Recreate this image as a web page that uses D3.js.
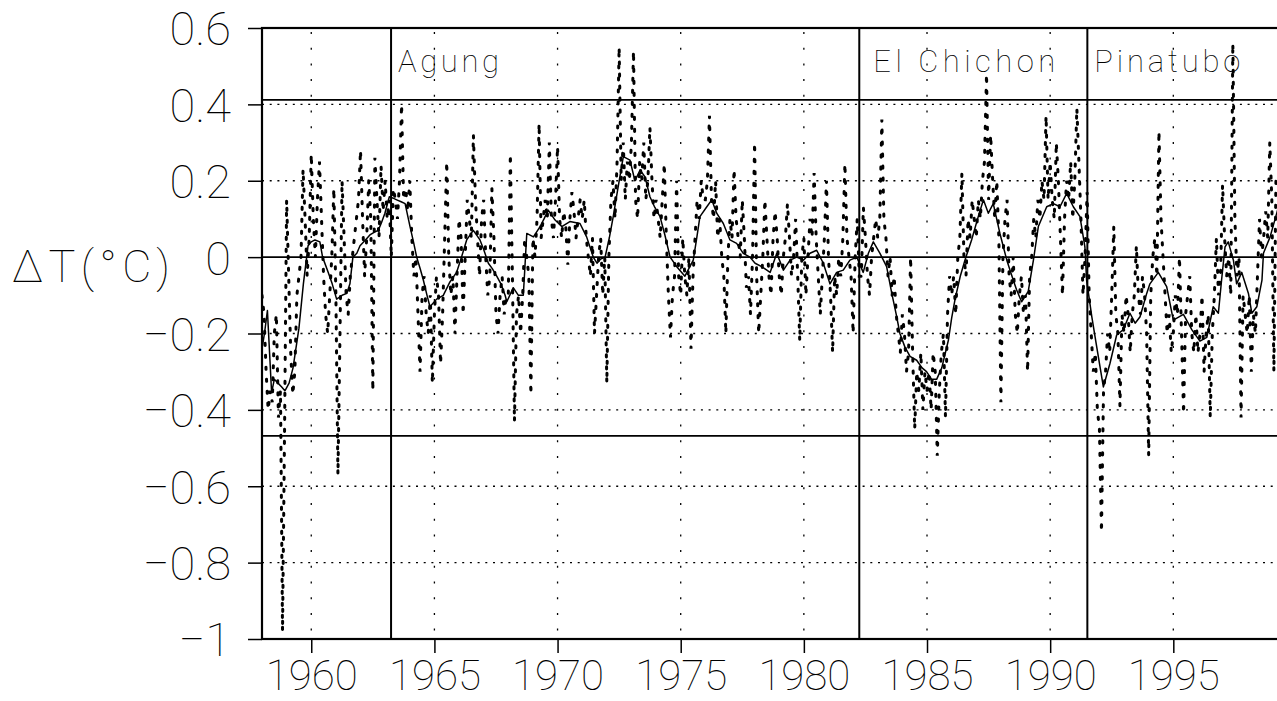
<!DOCTYPE html>
<html><head><meta charset="utf-8">
<script src="https://cdn.jsdelivr.net/npm/d3@7"></script>
<style>
html,body{margin:0;padding:0;background:#fff;}
svg text{font-family:"Roboto","DejaVu Sans",sans-serif;font-weight:100;fill:#000;}
</style></head>
<body>
<svg id="chart" width="1277" height="701"></svg>
<script>
// ---------- data ----------
const monthlyStart = 1958;
const monthlyAnomaly = [
-0.10,-0.15,-0.30,-0.40,-0.35,-0.38,-0.20,-0.15,-0.42,-0.35,-0.98,-0.45,
 0.15,-0.05,-0.25,-0.36,-0.30,-0.10,-0.05, 0.00, 0.23, 0.10,-0.05, 0.05,
 0.27, 0.10, 0.00, 0.15, 0.25, 0.10,-0.05,-0.15,-0.20,-0.10, 0.00, 0.18,
-0.10,-0.57,-0.20, 0.20, 0.05,-0.10,-0.15,-0.05, 0.00, 0.05, 0.10, 0.15,
 0.28, 0.10,-0.05, 0.05, 0.20, 0.10,-0.35, 0.26, 0.15, 0.05, 0.24, 0.12,
 0.20, 0.10, 0.15, 0.00, 0.18, 0.15, 0.10, 0.20, 0.40, 0.15, 0.18, 0.12,
 0.20, 0.05,-0.05, 0.00,-0.15,-0.30,-0.10,-0.05,-0.15,-0.20,-0.10,-0.33,
-0.15,-0.05,-0.10,-0.28,-0.15, 0.05, 0.25, 0.00,-0.10,-0.05,-0.20,-0.05,
 0.10, 0.05,-0.15, 0.00, 0.15, 0.10, 0.05, 0.32, 0.15, 0.05,-0.05, 0.10,
 0.15, 0.00,-0.10,-0.05, 0.18, 0.05,-0.15,-0.20,-0.10,-0.05,-0.15,-0.10,
-0.10, 0.27,-0.05,-0.43,-0.15,-0.10,-0.20,-0.10, 0.05, 0.00,-0.05,-0.36,
 0.05, 0.00, 0.10, 0.35, 0.05, 0.10, 0.15, 0.10, 0.30, 0.10, 0.05, 0.15,
 0.29, 0.10, 0.05, 0.12, 0.08,-0.02, 0.10, 0.17, 0.12, 0.05, 0.10, 0.15,
 0.10, 0.15, 0.05, 0.00,-0.05, 0.05,-0.20,-0.10, 0.00, 0.05,-0.10, 0.00,
-0.33, 0.00, 0.15, 0.20, 0.10, 0.25, 0.55, 0.20, 0.30, 0.15, 0.25, 0.20,
 0.30, 0.54, 0.15, 0.10, 0.25, 0.20, 0.30, 0.15, 0.20, 0.34, 0.20, 0.10,
 0.15, 0.10, 0.05, 0.15, 0.245,0.05,-0.10,-0.21,-0.10,-0.05, 0.20,-0.05,
-0.10, 0.05,-0.05,-0.10, 0.00,-0.24,-0.05, 0.05, 0.15, 0.10, 0.20, 0.15,
 0.15, 0.20, 0.37, 0.15, 0.10, 0.20, 0.05, 0.10, 0.00,-0.05,-0.20, 0.00,
 0.10, 0.05, 0.23, 0.10, 0.05, 0.00, 0.15, 0.05,-0.08,-0.05,-0.15, 0.00,
 0.30,-0.05,-0.20,-0.10, 0.00, 0.15, 0.05,-0.05,-0.10, 0.05, 0.12, 0.05,
-0.05,-0.10, 0.00, 0.05, 0.14, 0.05,-0.05, 0.00, 0.10,-0.05,-0.22, 0.00,
 0.05,-0.10, 0.00, 0.10, 0.05, 0.22, 0.05,-0.05,-0.15,-0.05, 0.05, 0.20,
 0.00,-0.10,-0.25,-0.05,-0.10, 0.00,-0.05, 0.05, 0.245,0.05, 0.00,-0.05,
-0.20, 0.00, 0.10,-0.05,-0.05, 0.13, 0.05,-0.05,-0.10, 0.00, 0.05, 0.10,
 0.05, 0.10, 0.36, 0.10, 0.05,-0.05, 0.00,-0.10,-0.05,-0.15,-0.20,-0.25,
-0.15,-0.20,-0.30,-0.25, 0.00,-0.25,-0.45,-0.30,-0.35,-0.25,-0.40,-0.30,
-0.35,-0.30,-0.40,-0.25,-0.30,-0.52,-0.35,-0.25,-0.20,-0.42,-0.15,-0.05,
-0.10,-0.05,-0.15, 0.00, 0.05, 0.22, 0.00,-0.05, 0.10, 0.05, 0.15, 0.10,
 0.05, 0.15, 0.10, 0.20, 0.25, 0.48, 0.15, 0.32, 0.20, 0.10, 0.20, 0.05,
-0.38, 0.00, 0.10, 0.15,-0.05,-0.10, 0.00,-0.15,-0.20,-0.10,-0.05,-0.15,
-0.10,-0.30,-0.05, 0.00, 0.10, 0.05, 0.15, 0.10, 0.20, 0.15, 0.37, 0.15,
 0.25, 0.15, 0.10, 0.30, 0.20, 0.05,-0.10, 0.10, 0.20, 0.15, 0.25, 0.10,
 0.20, 0.39, 0.25, 0.10,-0.10, 0.00, 0.17,-0.10,-0.20,-0.30,-0.25,-0.40,
-0.45,-0.72,-0.35,-0.30,-0.20,-0.25,-0.10, 0.08,-0.15,-0.20,-0.39,-0.15,
-0.20,-0.10,-0.15,-0.25,-0.15,-0.10, 0.03,-0.10,-0.15,-0.05,-0.10,-0.20,
-0.52,-0.10, 0.00, 0.05,-0.05, 0.33, 0.10, 0.00,-0.10,-0.20,-0.15,-0.25,
-0.20,-0.10,-0.15, 0.00,-0.20,-0.41,-0.15,-0.10,-0.05,-0.20,-0.25,-0.15,
-0.25,-0.20,-0.10,-0.30,-0.20,-0.15,-0.42,-0.20,-0.10, 0.05,-0.10,-0.05,
 0.19, 0.05,-0.05, 0.00,-0.10, 0.56, 0.10,-0.05, 0.00,-0.42,-0.10,-0.15,
-0.20,-0.10,-0.30,-0.15,-0.20,-0.05, 0.10, 0.00, 0.05, 0.12, 0.05, 0.30,
 0.15,-0.30, 0.20
];
const smoothYears = [1958.00,1958.10,1958.22,1958.39,1958.50,1958.65,1958.80,1958.93,1959.10,1959.26,1959.50,1959.68,1959.87,1960.00,1960.15,1960.35,1960.46,1960.69,1960.85,1961.03,1961.25,1961.44,1961.57,1961.69,1961.85,1961.98,1962.20,1962.38,1962.55,1962.72,1962.85,1962.99,1963.17,1963.30,1963.47,1963.65,1963.81,1964.01,1964.15,1964.28,1964.42,1964.55,1964.70,1964.82,1965.09,1965.36,1965.63,1965.90,1966.10,1966.31,1966.58,1966.85,1967.00,1967.19,1967.35,1967.53,1967.70,1967.87,1967.94,1968.20,1968.41,1968.61,1968.68,1968.75,1969.02,1969.29,1969.45,1969.62,1969.90,1970.17,1970.50,1970.91,1971.18,1971.45,1971.60,1971.75,1971.93,1972.10,1972.26,1972.45,1972.67,1972.94,1973.14,1973.35,1973.55,1973.75,1973.95,1974.16,1974.35,1974.57,1974.84,1975.17,1975.51,1975.65,1975.78,1976.06,1976.26,1976.46,1976.73,1977.00,1977.27,1977.54,1977.81,1978.02,1978.29,1978.63,1978.90,1979.17,1979.44,1979.71,1979.98,1980.25,1980.52,1980.79,1981.06,1981.33,1981.60,1981.87,1982.15,1982.41,1982.62,1982.82,1983.09,1983.36,1983.57,1983.75,1983.90,1984.10,1984.31,1984.58,1984.80,1984.98,1985.19,1985.39,1985.60,1985.87,1986.00,1986.14,1986.35,1986.54,1986.81,1987.08,1987.29,1987.49,1987.69,1987.96,1988.24,1988.50,1988.64,1988.84,1989.11,1989.32,1989.52,1989.86,1990.13,1990.40,1990.67,1990.94,1991.21,1991.41,1991.48,1991.69,1991.89,1992.16,1992.43,1992.70,1992.97,1993.24,1993.45,1993.65,1993.92,1994.05,1994.39,1994.73,1995.00,1995.41,1995.75,1996.08,1996.36,1996.62,1996.83,1996.96,1997.10,1997.23,1997.44,1997.57,1997.78,1998.05,1998.19,1998.39,1998.60,1998.66,1998.93,1999.20,1999.30];
const smoothValues = [-0.24,-0.20,-0.14,-0.355,-0.32,-0.33,-0.34,-0.35,-0.33,-0.29,-0.186,-0.07,0.03,0.04,0.045,0.04,0.0,-0.04,-0.07,-0.11,-0.10,-0.095,-0.07,0.0,0.01,0.03,0.045,0.058,0.065,0.07,0.09,0.115,0.158,0.155,0.15,0.145,0.14,0.08,0.04,0.0,-0.03,-0.06,-0.10,-0.13,-0.11,-0.10,-0.065,-0.04,0.0,0.045,0.07,0.045,0.02,-0.016,-0.03,-0.05,-0.07,-0.10,-0.117,-0.08,-0.10,-0.10,-0.02,0.062,0.053,0.08,0.10,0.123,0.097,0.08,0.093,0.088,0.053,0.0,-0.016,-0.005,0.0,0.05,0.106,0.18,0.263,0.254,0.20,0.228,0.21,0.158,0.13,0.106,0.06,0.0,-0.025,-0.05,-0.008,0.05,0.106,0.132,0.15,0.115,0.088,0.045,0.036,0.01,0.0,-0.016,-0.025,-0.04,0.01,-0.034,-0.008,0.0,-0.008,0.01,0.018,-0.016,-0.07,-0.04,-0.034,-0.008,0.0,-0.04,0.01,0.04,0.01,-0.025,-0.095,-0.15,-0.20,-0.235,-0.26,-0.27,-0.29,-0.30,-0.32,-0.32,-0.29,-0.217,-0.16,-0.11,-0.05,-0.008,0.045,0.106,0.15,0.115,0.14,0.062,-0.008,-0.06,-0.086,-0.117,-0.09,-0.008,0.08,0.132,0.14,0.132,0.167,0.132,0.106,0.027,-0.06,-0.156,-0.235,-0.34,-0.278,-0.204,-0.19,-0.147,-0.173,-0.156,-0.095,-0.07,-0.04,-0.077,-0.165,-0.15,-0.19,-0.22,-0.21,-0.13,-0.147,-0.06,0.027,0.04,-0.008,-0.07,-0.04,-0.095,-0.147,-0.13,-0.06,0.01,0.053,0.115,0.14];
const eruptionNames = ["Agung","El Chichon","Pinatubo"];
const eruptionYears = [1963.24,1982.25,1991.51];
const bandLevels = [0.412,-0.468];
const yTicks = [0.6,0.4,0.2,0,-0.2,-0.4,-0.6,-0.8,-1];
const yTickLabels = ["0.6","0.4","0.2","0","\u22120.2","\u22120.4","\u22120.6","\u22120.8","\u22121"];
const xTicks = [1960,1965,1970,1975,1980,1985,1990,1995];
const xTickLabels = ["1960","1965","1970","1975","1980","1985","1990","1995"];
const yAxisTitle = "\u0394T(\u00B0C)";

(function draw(){
const svg = d3.select("#chart");
const plotLeft = 262, plotTop = 28, plotBottom = 639;
const pxPerYear = 24.63;
const xDomain = [1958, 1999.5];
const x = d3.scaleLinear().domain(xDomain).range([plotLeft, plotLeft + (xDomain[1]-xDomain[0])*pxPerYear]);
const y = d3.scaleLinear().domain([-1, 0.6]).range([plotBottom, plotTop]);
const plotRight = x.range()[1];

svg.append("defs").append("clipPath").attr("id","plot")
  .append("rect").attr("x",plotLeft).attr("y",plotTop).attr("width",plotRight-plotLeft).attr("height",plotBottom-plotTop);

const grid = svg.append("g");
grid.selectAll("line.gy").data(yTicks.filter(v => v !== 0 && v > -1 && v < 0.6)).join("line")
  .attr("x1",plotLeft).attr("x2",plotRight).attr("y1",d=>y(d)).attr("y2",d=>y(d))
  .attr("stroke","#000").attr("stroke-width",1.3).attr("stroke-dasharray","2 5.7");
grid.selectAll("line.gx").data(xTicks).join("line")
  .attr("x1",d=>x(d)).attr("x2",d=>x(d)).attr("y1",plotTop+4).attr("y2",plotBottom)
  .attr("stroke","#000").attr("stroke-width",1.3).attr("stroke-dasharray","2 13.7");

svg.append("g").selectAll("line").data(bandLevels.concat([0])).join("line")
  .attr("x1",plotLeft).attr("x2",plotRight).attr("y1",d=>y(d)).attr("y2",d=>y(d))
  .attr("stroke","#000").attr("stroke-width",1.8);
svg.append("g").selectAll("line").data(eruptionYears).join("line")
  .attr("x1",d=>x(d)).attr("x2",d=>x(d)).attr("y1",plotTop).attr("y2",plotBottom)
  .attr("stroke","#000").attr("stroke-width",2);

const monthly = monthlyAnomaly.map((v,i)=>[monthlyStart + i/12, v]);
svg.append("path").datum(monthly)
  .attr("clip-path","url(#plot)")
  .attr("d", d3.line().x(d=>x(d[0])).y(d=>y(d[1])))
  .attr("fill","none").attr("stroke","#000").attr("stroke-width",3)
  .attr("stroke-linecap","round").attr("stroke-dasharray","2.2 9.8");
const smooth = smoothYears.map((t,i)=>[t, smoothValues[i]]);
svg.append("path").datum(smooth)
  .attr("clip-path","url(#plot)")
  .attr("d", d3.line().x(d=>x(d[0])).y(d=>y(d[1])))
  .attr("fill","none").attr("stroke","#000").attr("stroke-width",1.5)
  .attr("stroke-linejoin","round");

svg.append("rect").attr("x",plotLeft).attr("y",plotTop).attr("width",plotRight-plotLeft).attr("height",plotBottom-plotTop)
  .attr("fill","none").attr("stroke","#000").attr("stroke-width",2.2);

const yAxis = d3.axisLeft(y).tickValues(yTicks).tickSize(14).tickPadding(17)
  .tickFormat((d,i)=>yTickLabels[i]);
const gy = svg.append("g").attr("transform",`translate(${plotLeft},0)`).call(yAxis);
gy.select(".domain").remove();
gy.selectAll(".tick line").attr("stroke","#000").attr("stroke-width",1.5);
gy.selectAll(".tick text").attr("font-size",47).attr("dy","0.36em")
  .style("font-family","Roboto, 'DejaVu Sans', sans-serif").style("font-weight",100);

const xAxis = d3.axisBottom(x).tickValues(xTicks).tickSize(14).tickPadding(7)
  .tickFormat((d,i)=>xTickLabels[i]);
const gx = svg.append("g").attr("transform",`translate(0,${plotBottom})`).call(xAxis);
gx.select(".domain").remove();
gx.selectAll(".tick line").attr("stroke","#000").attr("stroke-width",1.5);
gx.selectAll(".tick text").attr("font-size",42).attr("dy","0.71em")
  .style("font-family","Roboto, 'DejaVu Sans', sans-serif").style("font-weight",100);

svg.append("text").attr("x",12).attr("y",282).attr("font-size",45)
  .attr("textLength",158).attr("lengthAdjust","spacing").text(yAxisTitle);

const labelOffsets = [7,14,7];
const labelWidths = [101,182,146];
svg.append("g").selectAll("text").data(eruptionNames).join("text")
  .attr("x",(d,i)=>x(eruptionYears[i])+labelOffsets[i]).attr("y",72)
  .attr("font-size",31).attr("textLength",(d,i)=>labelWidths[i]).attr("lengthAdjust","spacing")
  .text(d=>d);
})();
</script>
</body></html>
